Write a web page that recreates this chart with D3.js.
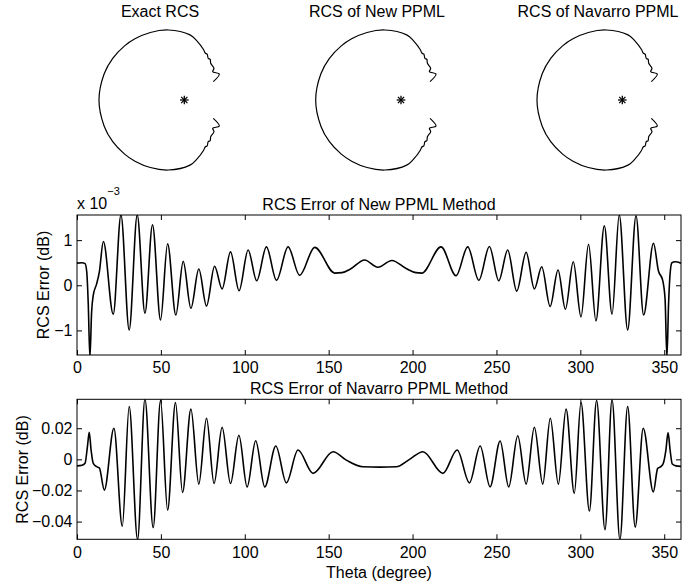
<!DOCTYPE html>
<html><head><meta charset="utf-8">
<script src="https://cdn.jsdelivr.net/npm/d3@7"></script>
<style>
body{margin:0;background:#fff}
svg{display:block}
text{font-family:"Liberation Sans",Arial,Helvetica,sans-serif;fill:#000}
</style>
</head><body>
<svg id="chart" width="694" height="587"></svg>
<script>
// ---------------- data ----------------
const polarTitles = ["Exact RCS", "RCS of New PPML", "RCS of Navarro PPML"];
// polar RCS pattern (angle in degrees, CCW from +x; normalized radius)
const polarAngle = [32.3, 36.6, 44.9, 46.9, 54.3, 57.5, 60.1, 63.5, 66.0, 69.2, 78.0, 85.0, 102.9, 116.7, 128.9, 137.8, 149.8, 161.9, 180.0,
  198.1, 210.2, 222.2, 231.1, 243.3, 257.1, 275.0, 282.0, 290.8, 294.0, 296.5, 299.9, 302.5, 305.7, 313.1, 315.1, 323.4, 327.7];
const polarRadius = [0.399, 0.507, 0.466, 0.505, 0.526, 0.560, 0.559, 0.595, 0.598, 0.628, 0.703, 0.760, 0.835, 0.879, 0.914, 0.937, 0.963, 0.980, 0.992,
  0.980, 0.963, 0.937, 0.914, 0.879, 0.835, 0.760, 0.703, 0.628, 0.598, 0.595, 0.559, 0.560, 0.526, 0.505, 0.466, 0.507, 0.399];

// RCS error of New PPML method (dB, in units of 1e-3)
const thetaNew = [0, 3, 4.8, 5.8, 6.7, 7.7, 8.7, 9.7, 11.7, 13.3, 15.7, 21.6, 26.2, 31.1, 35.9, 40.5, 45.0, 49.8, 54.0, 58.9,
  63.3, 67.9, 72.6, 77.2, 82.0, 86.5, 91.5, 96.6, 102.0, 107.1, 112.9, 118.9, 125.8, 132.7, 141.7, 153.6, 158.0, 163.0, 171.4, 179.3,
  187.7, 196.2, 202.0, 205.5, 217.0, 225.9, 232.9, 239.5, 245.8, 251.4, 256.7, 262.1, 267.7, 272.6, 277.0, 282.0, 286.7, 291.1, 295.8, 300.4,
  304.9, 309.3, 314.3, 318.9, 323.2, 328.2, 333.2, 337.7, 343.6, 346.6, 349.0, 350.5, 351.6, 352.6, 353.6, 354.6, 356.5, 360];
const errNew = [0.49, 0.50, 0.48, 0.30, -0.40, -1.60, -0.60, -0.22, 0.03, 0.29, 0.97, -0.64, 1.56, -0.99, 1.56, -0.62, 1.34, -0.77, 0.92, -0.66,
  0.53, -0.51, 0.36, -0.46, 0.42, -0.08, 0.74, -0.12, 0.78, 0.10, 0.85, 0.11, 0.85, 0.22, 0.84, 0.27, 0.28, 0.36, 0.56, 0.40,
  0.55, 0.37, 0.28, 0.27, 0.85, 0.21, 0.85, 0.11, 0.86, 0.10, 0.78, -0.13, 0.73, -0.08, 0.41, -0.47, 0.34, -0.53, 0.52, -0.70,
  0.91, -0.79, 1.32, -0.64, 1.56, -0.99, 1.54, -0.66, 0.93, 0.31, 0.12, -0.30, -1.60, -0.40, 0.30, 0.50, 0.52, 0.49];

// RCS error of Navarro PPML method (dB)
const thetaNav = [0, 3, 4.8, 6.2, 7.3, 8.4, 9.7, 11.7, 13.3, 16.3, 22.0, 27.0, 31.1, 36.1, 40.5, 45.4, 49.8, 54.0, 58.7, 62.9,
  67.9, 72.6, 77.2, 81.7, 86.5, 91.5, 96.5, 101.4, 106.5, 111.9, 118.5, 124.8, 131.7, 140.7, 152.6, 160.5, 170.4, 180.4, 190.3, 198.2,
  206.2, 218.1, 226.6, 233.9, 240.3, 246.2, 252.2, 257.3, 262.7, 267.7, 272.6, 277.6, 282.1, 286.9, 291.5, 296.4, 300.4, 305.4, 309.7, 314.7,
  318.9, 323.6, 328.2, 332.7, 337.5, 343.5, 346.1, 348.0, 349.4, 351.0, 352.3, 353.5, 354.8, 357.0, 360];
const errNav = [-0.0042, -0.0038, -0.0025, 0.008, 0.0174, 0.006, -0.0026, -0.0047, -0.0055, -0.0198, 0.020, -0.043, 0.034, -0.0516, 0.0388, -0.0439, 0.0378, -0.0327, 0.0365, -0.0213,
  0.0323, -0.0159, 0.0264, -0.0155, 0.0206, -0.0155, 0.0155, -0.0177, 0.012, -0.0177, 0.0086, -0.0151, 0.006, -0.009, 0.0049, -0.0005, -0.0048, -0.0050, -0.0048, 0.0,
  0.0049, -0.009, 0.006, -0.0151, 0.0086, -0.0177, 0.0118, -0.0177, 0.0152, -0.0159, 0.0206, -0.0159, 0.0264, -0.0159, 0.0323, -0.0219, 0.0365, -0.0332, 0.0378, -0.0452,
  0.0383, -0.0516, 0.034, -0.0435, 0.020, -0.0209, -0.0058, -0.0047, -0.0027, 0.006, 0.0172, 0.006, -0.003, -0.0042, -0.0045];

const xTicks = [0, 50, 100, 150, 200, 250, 300, 350];
const yTicksNew = [-1, 0, 1];
const yTicksNav = [-0.04, -0.02, 0, 0.02];

// ---------------- drawing ----------------
const svg = d3.select("#chart");
const FS = 16;

// polar plots
const rScale = d3.scaleLinear().domain([0, 1]).range([0, 86]);
const polarPts = polarAngle.map((a, i) => ({a: a, r: polarRadius[i]}));
const radial = d3.lineRadial()
  .angle(d => (90 - d.a) * Math.PI / 180)
  .radius(d => rScale(d.r))
  .curve(d3.curveCatmullRom.alpha(0.5));
const polarCx = [184.3, 401, 622.3];
const titleCx = [160, 377, 598];
polarTitles.forEach((t, i) => {
  const g = svg.append("g").attr("transform", `translate(${polarCx[i]},100)`);
  g.append("path").attr("d", radial(polarPts))
    .attr("fill", "none").attr("stroke", "#000").attr("stroke-width", 1.2);
  const s = 4.3, o = rScale(0);
  const star = g.append("g").attr("stroke", "#000").attr("stroke-width", 1.3);
  [[-s,0,s,0],[0,-s,0,s],[-s*0.72,-s*0.72,s*0.72,s*0.72],[-s*0.72,s*0.72,s*0.72,-s*0.72]].forEach(l => {
    star.append("line").attr("x1", o + l[0]).attr("y1", l[1]).attr("x2", o + l[2]).attr("y2", l[3]);
  });
  svg.append("text").attr("x", titleCx[i]).attr("y", 17).attr("text-anchor", "middle")
    .attr("font-size", FS).text(t);
});

// error panels
const x = d3.scaleLinear().domain([0, 360]).range([77, 681]);
let clipId = 0;
function panel(theta, vals, yDomain, yTicks, yFmt, top, bottom, title) {
  const y = d3.scaleLinear().domain(yDomain).range([bottom, top]);
  const g = svg.append("g");
  const id = "clip" + (clipId++);
  svg.append("clipPath").attr("id", id).append("rect")
    .attr("x", x.range()[0]).attr("y", top).attr("width", x.range()[1] - x.range()[0]).attr("height", bottom - top);
  const pts = theta.map((t, i) => [t, vals[i]]);
  const line = d3.line().x(d => x(d[0])).y(d => y(d[1])).curve(d3.curveMonotoneX);
  g.append("path").attr("clip-path", `url(#${id})`).attr("d", line(pts))
    .attr("fill", "none").attr("stroke", "#000").attr("stroke-width", 1.6).attr("stroke-linejoin", "round");

  const ax = (axis, tr) => {
    const a = g.append("g").attr("transform", tr).call(axis);
    a.select(".domain").remove();
    a.selectAll("line").attr("stroke", "#000");
    a.selectAll("text").attr("font-size", FS).attr("font-family", null).attr("fill", "#000");
    return a;
  };
  ax(d3.axisBottom(x).tickValues(xTicks).tickSize(-5).tickPadding(7).tickFormat(d3.format("d")), `translate(0,${bottom})`);
  ax(d3.axisTop(x).tickValues(xTicks).tickSize(-5).tickFormat(""), `translate(0,${top})`);
  ax(d3.axisLeft(y).tickValues(yTicks).tickSize(-5).tickPadding(4.5).tickFormat(yFmt), `translate(${x.range()[0]},0)`);
  ax(d3.axisRight(y).tickValues(yTicks).tickSize(-5).tickFormat(""), `translate(${x.range()[1]},0)`);

  g.append("rect").attr("x", x.range()[0]).attr("y", top)
    .attr("width", x.range()[1] - x.range()[0]).attr("height", bottom - top)
    .attr("fill", "none").attr("stroke", "#000").attr("stroke-width", 1);

  svg.append("text").attr("x", (x.range()[0] + x.range()[1]) / 2).attr("y", top - 5.5)
    .attr("text-anchor", "middle").attr("font-size", FS).text(title);
  return y;
}

panel(thetaNew, errNew, [-1.545, 1.557], yTicksNew, d3.format("d"), 215, 355, "RCS Error of New PPML Method");
panel(thetaNav, errNav, [-0.0514, 0.0386], yTicksNav, d => d === 0 ? "0" : d3.format(".2f")(d), 399.3, 539.3, "RCS Error of Navarro PPML Method");

// y labels
svg.append("text").attr("transform", "translate(49,285) rotate(-90)").attr("text-anchor", "middle")
  .attr("font-size", FS).text("RCS Error (dB)");
svg.append("text").attr("transform", "translate(28,469.5) rotate(-90)").attr("text-anchor", "middle")
  .attr("font-size", FS).text("RCS Error (dB)");

// exponent label
const ex = svg.append("text").attr("x", 77).attr("y", 208.5).attr("font-size", FS);
ex.append("tspan").text("x 10");
ex.append("tspan").attr("dy", -14).attr("font-size", 11).text("−3");

// x label
svg.append("text").attr("x", 379).attr("y", 578).attr("text-anchor", "middle")
  .attr("font-size", FS).text("Theta (degree)");
</script>
</body></html>
